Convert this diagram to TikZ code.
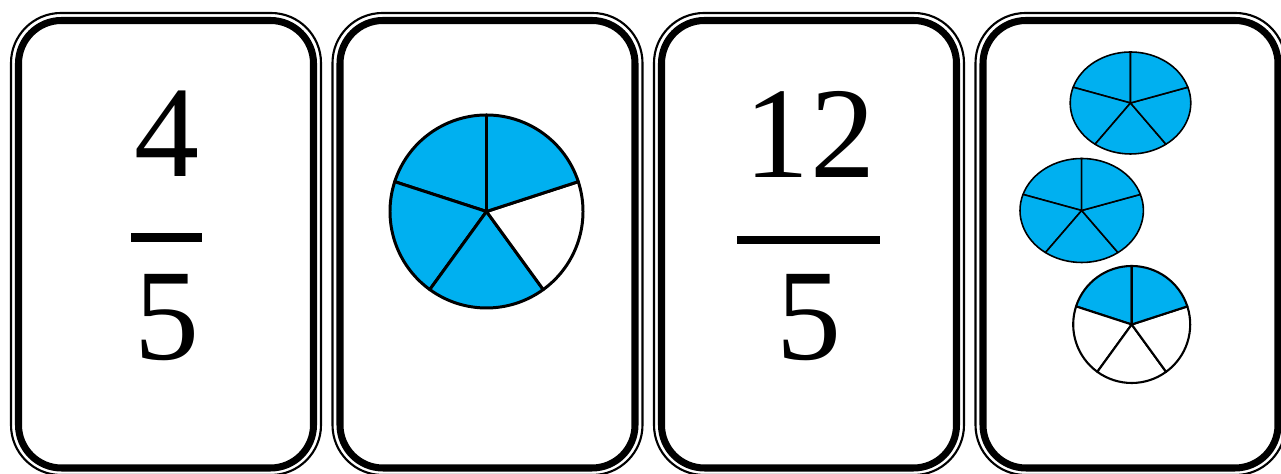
\documentclass[tikz,border=0pt]{standalone}
\usepackage{fontspec}
\setmainfont{Liberation Serif}
\usepackage{xcolor}
\usetikzlibrary{
    positioning,
    calc,
}
\definecolor{fracblue}{RGB}{0,176,240}
\tikzset{
    cardthin/.style={line width=0.6pt,rounded corners=0.5cm},
    cardthick/.style={line width=2pt,rounded corners=0.43cm},
    digit/.style={font=\fontsize{37}{40}\selectfont,inner sep=0pt,anchor=base},
    fracbar/.style={line width=2.4pt},
    slice/.style={draw=black,line join=round},
}

\begin{document}
\begin{tikzpicture}
    \pgfmathsetmacro\CardW{3.12}
    \pgfmathsetmacro\CardTop{4.62}
    \pgfmathsetmacro\CardBot{-0.02}
    %
    \useasboundingbox (0,0) rectangle (12.81,4.74);
    \clip (0,0) rectangle (12.81,4.74);
    %
        % Cornici delle carte
    \foreach \L in {0.10,3.315,6.53,9.745}{
        \draw[cardthin] (\L+0.01,\CardBot+0.01) rectangle (\L+\CardW-0.01,\CardTop-0.01);
        \draw[cardthick] (\L+0.085,\CardBot+0.08) rectangle (\L+\CardW-0.085,\CardTop-0.085);
    }
    %
    %
        % Carta 1: quattro quinti
    \node[digit] (numA) at (1.67,2.97) {4};
    \node[digit] (denA) at (1.67,1.14) {5};
    \draw[fracbar] (1.31,2.365) -- (2.02,2.365);
    %
        % Carta 2: torta da cinque parti
    \pgfmathsetmacro\PieR{0.965}
    \coordinate (pieA) at (4.865,2.625);
    \foreach \s/\c in {90/fracblue,162/fracblue,234/fracblue,306/white,18/fracblue}
        \filldraw[slice,fill=\c,line width=0.85pt]
            (pieA) -- ++(\s:\PieR) arc[start angle=\s,end angle=\s+72,radius=\PieR] -- cycle;
    %
        % Carta 3: dodici quinti
    \node[digit] (numC) at (8.10,2.96) {12};
    \node[digit] (denC) at (8.09,1.14) {5};
    \draw[fracbar] (7.37,2.34) -- (8.80,2.34);
    %
        % Carta 4: tre torte
    \coordinate (pieB) at (11.305,3.71);
    \coordinate (pieC) at (10.817,2.635);
    \coordinate (pieD) at (11.317,1.495);
    %
    \foreach \s in {90,162,234,306,18}
        \filldraw[slice,fill=fracblue,line width=0.45pt]
            (pieB) -- ++(\s:0.603 and 0.51)
            arc[start angle=\s,end angle=\s+72,x radius=0.603,y radius=0.51] -- cycle;
    %
    \foreach \s in {90,162,234,306,18}
        \filldraw[slice,fill=fracblue,line width=0.45pt]
            (pieC) -- ++(\s:0.617 and 0.52)
            arc[start angle=\s,end angle=\s+72,x radius=0.617,y radius=0.52] -- cycle;
    %
    \foreach \s/\c in {90/fracblue,162/white,234/white,306/white,18/fracblue}
        \filldraw[slice,fill=\c,line width=0.6pt]
            (pieD) -- ++(\s:0.585) arc[start angle=\s,end angle=\s+72,radius=0.585] -- cycle;
\end{tikzpicture}
\end{document}
